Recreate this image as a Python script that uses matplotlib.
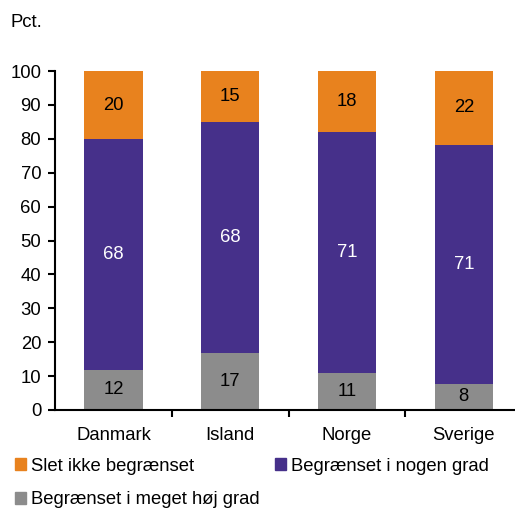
import numpy as np
import matplotlib.pyplot as plt
from matplotlib.patches import Patch

plt.rcParams['font.family'] = ['Liberation Sans', 'DejaVu Sans']

countries = ['Danmark', 'Island', 'Norge', 'Sverige']
high = [11.8, 16.9, 10.9, 7.7]
some = [68.1, 68.1, 71.1, 70.6]
none = [20.1, 15.0, 18.0, 21.7]

c_none = '#E8821E'
c_some = '#46308A'
c_high = '#8C8C8C'
fs = 13.3

fig = plt.figure(figsize=(5.15, 5.09), dpi=100)
ax = fig.add_axes([0.107, 0.1945, 0.907, 0.666])

x = np.arange(len(countries))
w = 0.5
ax.bar(x, high, w, color=c_high)
ax.bar(x, some, w, bottom=high, color=c_some)
ax.bar(x, none, w, bottom=np.array(high) + np.array(some), color=c_none)

for i in range(len(countries)):
    ax.text(x[i], high[i] / 2, f'{high[i]:.0f}', ha='center', va='center', fontsize=fs, color='black')
    ax.text(x[i], high[i] + some[i] / 2, f'{some[i]:.0f}', ha='center', va='center', fontsize=fs, color='white')
    ax.text(x[i], high[i] + some[i] + none[i] / 2, f'{none[i]:.0f}', ha='center', va='center', fontsize=fs, color='black')

ax.set_xlim(-0.5, 3.5)
ax.set_ylim(0, 100)
ax.set_yticks(range(0, 101, 10))
ax.set_xticks(x)
ax.set_xticklabels(countries)
ax.set_xticks(x[:-1] + 0.5, minor=True)
ax.tick_params(axis='x', which='major', length=0, pad=12, labelsize=fs)
ax.tick_params(axis='x', which='minor', length=5, width=1.5, direction='out')
ax.tick_params(axis='y', length=5, width=1.5, direction='out', labelsize=fs, pad=5)
for s in ['top', 'right']:
    ax.spines[s].set_visible(False)
ax.spines['left'].set_linewidth(1.5)
ax.spines['bottom'].set_linewidth(1.5)

fig.text(0.02, 0.955, 'Pct.', fontsize=fs, va='center')

handles = [Patch(color=c_none, label='Slet ikke begrænset'),
           Patch(color=c_high, label='Begrænset i meget høj grad'),
           Patch(color=c_some, label='Begrænset i nogen grad')]
fig.legend(handles=handles, loc='upper left', bbox_to_anchor=(0.014, 0.115),
           ncol=2, frameon=False, fontsize=fs, handlelength=0.6, handleheight=0.6,
           handletextpad=0.3, columnspacing=0.8, labelspacing=0.9, borderaxespad=0)

fig.savefig('out.png', dpi=100)
